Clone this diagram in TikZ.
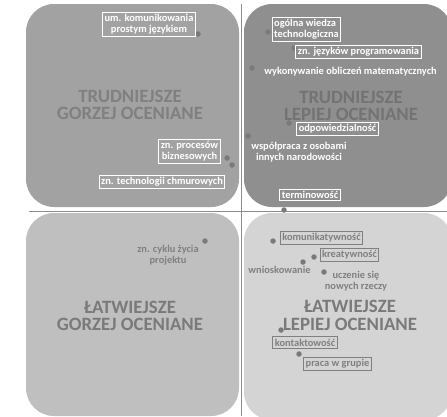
\documentclass[tikz,border=0pt]{standalone}
\usepackage{fontspec}
\setmainfont{Carlito}
\usetikzlibrary{positioning}
\definecolor{TLColor}{RGB}{162,162,162}
\definecolor{TRColor}{RGB}{143,143,143}
\definecolor{BLColor}{RGB}{191,191,191}
\definecolor{BRColor}{RGB}{212,212,212}
\definecolor{BigColor}{RGB}{128,128,128}
\definecolor{DotColor}{RGB}{122,122,122}
\definecolor{LabGray}{RGB}{128,128,128}
\definecolor{AxColor}{RGB}{140,140,140}

\begin{document}
\begin{tikzpicture}[x=1pt,y=-1pt,every node/.style={align=center,font=\fontsize{10.4}{11}\selectfont\bfseries},
  lab/.style={draw=white,line width=0.9pt,text=white,inner sep=2pt},
  labg/.style={draw=LabGray,line width=0.9pt,text=LabGray,inner sep=2pt},
  txt/.style={text=white,inner sep=1pt},
  txtg/.style={text=LabGray,inner sep=1pt},
  pt/.style={circle,fill=DotColor,inner sep=0pt,minimum size=5.5pt},
  big/.style={font=\fontsize{18.8}{17.5}\selectfont\bfseries,text=BigColor}]
\clip (0,0) rectangle (447,416);
\fill[TLColor,rounded corners=28] (26,4) rectangle (239,207);
\fill[TRColor,rounded corners=28] (244,4) rectangle (452,207);
\fill[BLColor,rounded corners=28] (26,213) rectangle (239,416);
\fill[BRColor,rounded corners=28] (244,213) rectangle (452,420);
\coordinate (vtop) at (241.5,4);
\coordinate (vbot) at (241.5,416);
\coordinate (hleft) at (29,211);
\coordinate (hright) at (447,211);
\draw[AxColor,line width=0.8pt] (vtop) -- (vbot);
\draw[AxColor,line width=0.8pt] (hleft) -- (hright);
% quadrant titles
\node[big] (tl) at (130,105) {TRUDNIEJSZE\\GORZEJ OCENIANE};
\node[big,text=BigColor!90!black] (tr) at (351,106) {TRUDNIEJSZE\\LEPIEJ OCENIANE};
\node[big,text=BigColor!105] (bl) at (130,316) {ŁATWIEJSZE\\GORZEJ OCENIANE};
\node[big,text=BigColor!105] (br) at (350,315.5) {ŁATWIEJSZE\\LEPIEJ OCENIANE};
% points
\foreach \n/\x/\y in {pKom/198/34,pProc/227/158,pChm/232/165,pOgol/268/32,pJez/294/48,
  pObl/252/68,pOdp/289/123,pWsp/248/136,pTerm/284/210,pCykl/205/241,pKomun/273/241,
  pKreat/314/257,pWnio/303/262,pUcz/324/272,pKont/281/330,pPraca/299/354}
  \node[pt] (\n) at (\x,\y) {};
% labels
\node[lab] (lKom) at (149,24.5) {um. komunikowania\\prostym językiem};
\node[lab] (lProc) at (189.5,151.5) {zn. procesów\\biznesowych};
\node[lab] (lChm) at (162,181.5) {zn. technologii chmurowych};
\node[lab,align=left] (lOgol) at (306.5,29) {ogólna wiedza\\technologiczna};
\node[lab] (lJez) at (358.5,52) {zn. języków programowania};
\node[txt] (lObl) at (350.5,72) {wykonywanie obliczeń matematycznych};
\node[lab] (lOdp) at (337.5,129) {odpowiedzialność};
\node[txt] (lWsp) at (299,152) {współpraca z osobami\\innych narodowości};
\node[lab] (lTerm) at (310,195) {terminowość};
\node[txtg] (lCykl) at (168,255) {zn. cyklu życia\\projektu};
\node[labg] (lKomun) at (321.5,238) {komunikatywność};
\node[labg] (lKreat) at (349.5,254.5) {kreatywność};
\node[txtg] (lWnio) at (279.5,270) {wnioskowanie};
\node[txtg] (lUcz) at (356,281.5) {uczenie się\\nowych rzeczy};
\node[labg] (lKont) at (305,342.5) {kontaktowość};
\node[labg] (lPraca) at (337.5,363.5) {praca w grupie};
\end{tikzpicture}
\end{document}
